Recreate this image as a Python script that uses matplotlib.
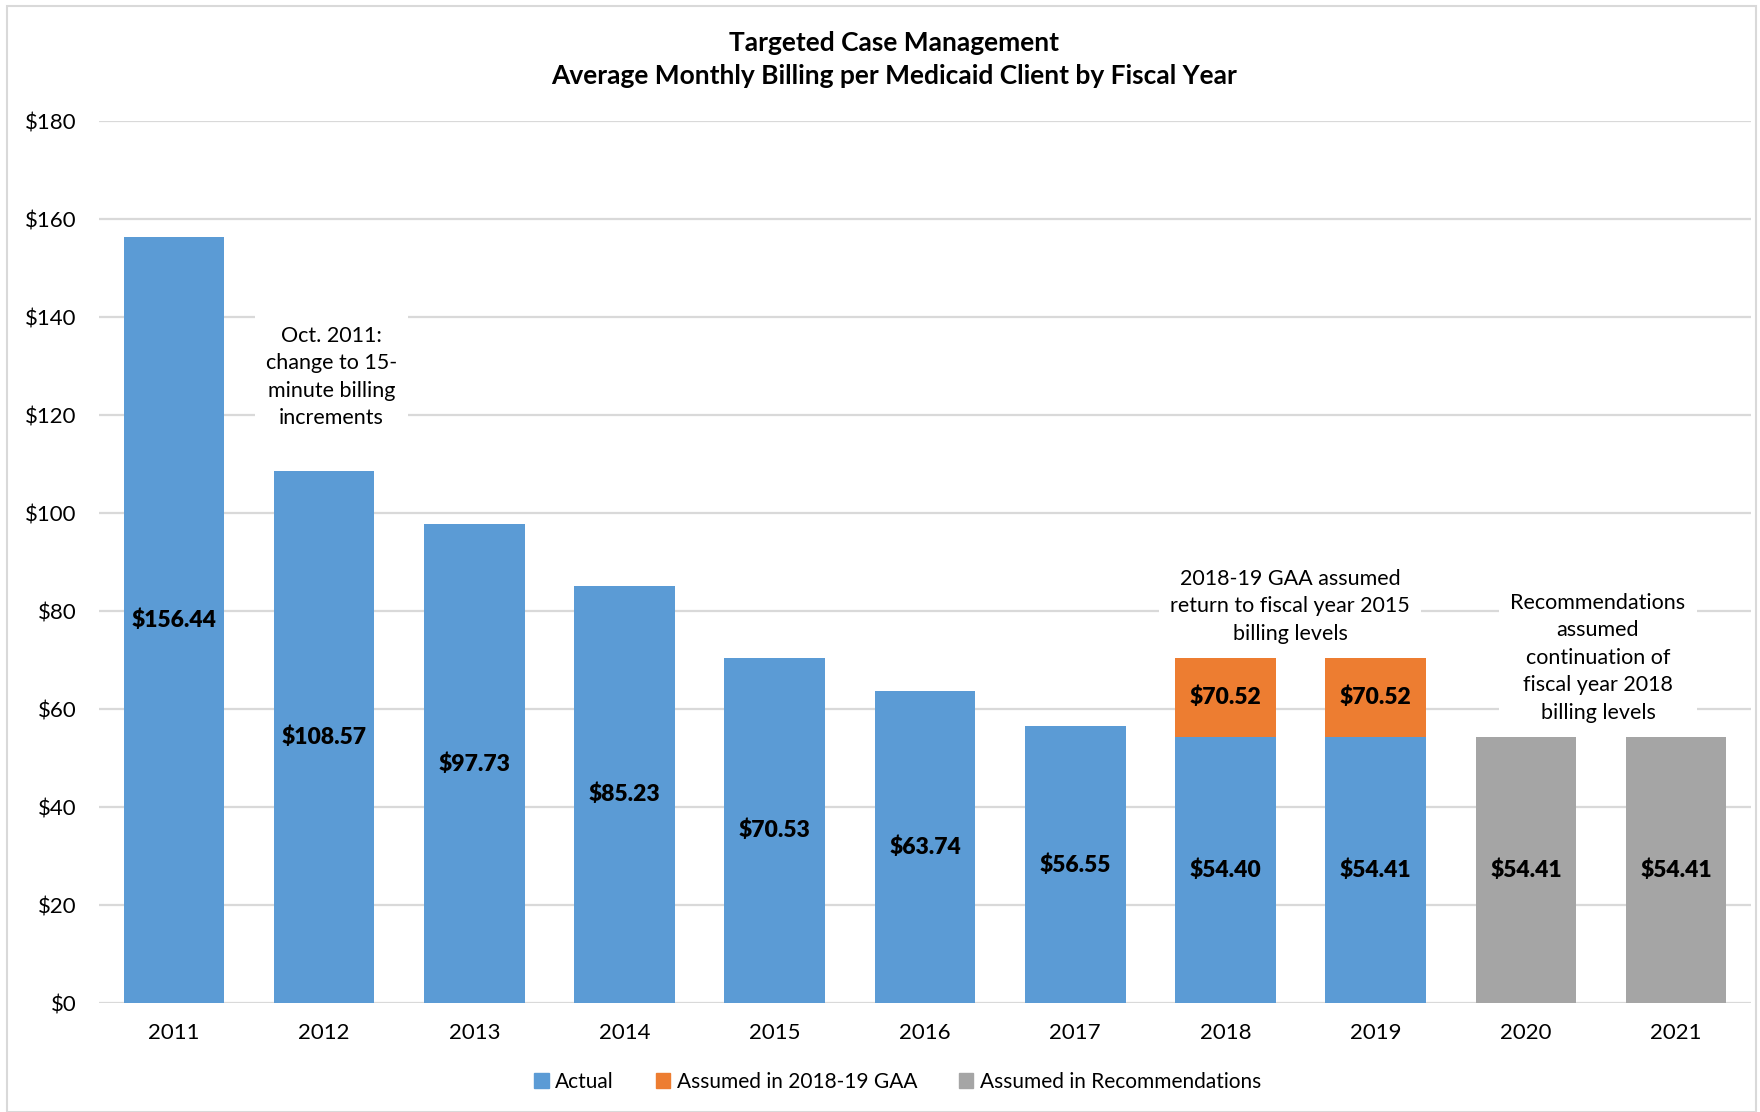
import matplotlib
matplotlib.use("Agg")
import matplotlib.pyplot as plt
from matplotlib.patches import Rectangle, Patch

plt.rcParams['font.family'] = ['Lato', 'DejaVu Sans']

years = ["2011", "2012", "2013", "2014", "2015", "2016", "2017", "2018", "2019", "2020", "2021"]
actual = [156.44, 108.57, 97.73, 85.23, 70.53, 63.74, 56.55, 54.40, 54.41, 0, 0]
gaa_total = [0, 0, 0, 0, 0, 0, 0, 70.52, 70.52, 0, 0]
recommended = [0, 0, 0, 0, 0, 0, 0, 0, 0, 54.41, 54.41]
y_ticks = [0, 20, 40, 60, 80, 100, 120, 140, 160, 180]

BLUE = "#5B9BD5"
ORANGE = "#ED7D31"
GRAY = "#A5A5A5"
GRID = "#D9D9D9"

fig = plt.figure(figsize=(17.6, 11.12), dpi=100)
ax = fig.add_axes([0.0561, 0.0977, 0.9389, 0.7933])

x = list(range(len(years)))
w = 0.67
gaa_extra = [(t - a) if t else 0 for t, a in zip(gaa_total, actual)]

ax.bar(x, actual, width=w, color=BLUE, zorder=2)
ax.bar(x, gaa_extra, width=w, bottom=actual, color=ORANGE, zorder=2)
ax.bar(x, recommended, width=w, color=GRAY, zorder=2)

lab_kw = dict(ha="center", va="center", fontsize=16.5, fontweight="heavy", color="black", zorder=4)
for i in x:
    if actual[i]:
        ax.text(i, actual[i] / 2, f"${actual[i]:.2f}", **lab_kw)
    if gaa_extra[i]:
        ax.text(i, actual[i] + gaa_extra[i] / 2, f"${gaa_total[i]:.2f}", **lab_kw)
    if recommended[i]:
        ax.text(i, recommended[i] / 2, f"${recommended[i]:.2f}", **lab_kw)

ax.set_xlim(-0.5, len(years) - 0.5)
ax.set_ylim(0, 180)
ax.set_yticks(y_ticks)
ax.set_yticklabels([f"${v}" for v in y_ticks])
ax.set_xticks(x)
ax.set_xticklabels(years)
ax.tick_params(axis="both", length=0, labelsize=16, colors="black")
ax.tick_params(axis="x", pad=14)
ax.tick_params(axis="y", pad=16)
ax.yaxis.grid(True, color=GRID, linewidth=1.6, zorder=0)
ax.set_axisbelow(True)
for s in ax.spines.values():
    s.set_visible(False)

note_kw = dict(ha="center", va="center", fontsize=15.5, linespacing=1.47, zorder=3,
               bbox=dict(facecolor="white", edgecolor="none", pad=8))
ax.text(1.05, 127.8, "Oct. 2011:\nchange to 15-\nminute billing\nincrements", **note_kw)
ax.text(7.43, 81.0, "2018-19 GAA assumed\nreturn to fiscal year 2015\nbilling levels", **note_kw)
ax.text(9.48, 70.5, "Recommendations\nassumed\ncontinuation of\nfiscal year 2018\nbilling levels", **note_kw)

fig.text(0.508, 0.961, "Targeted Case Management", ha="center", va="center",
         fontsize=19, fontweight="bold")
fig.text(0.508, 0.932, "Average Monthly Billing per Medicaid Client by Fiscal Year", ha="center",
         va="center", fontsize=19, fontweight="bold")

handles = [Patch(color=BLUE, label="Actual"),
           Patch(color=ORANGE, label="Assumed in 2018-19 GAA"),
           Patch(color=GRAY, label="Assumed in Recommendations")]
fig.legend(handles=handles, loc="center", bbox_to_anchor=(0.51, 0.027), ncol=3, frameon=False,
           fontsize=15, handlelength=0.7, handleheight=0.7, handletextpad=0.3, columnspacing=2.0)

fig.patches.append(Rectangle((0.004, 0.0), 0.994, 0.995, transform=fig.transFigure,
                             fill=False, edgecolor="#D9D9D9", linewidth=1.5))

fig.savefig("out.png", dpi=100, facecolor="white")
